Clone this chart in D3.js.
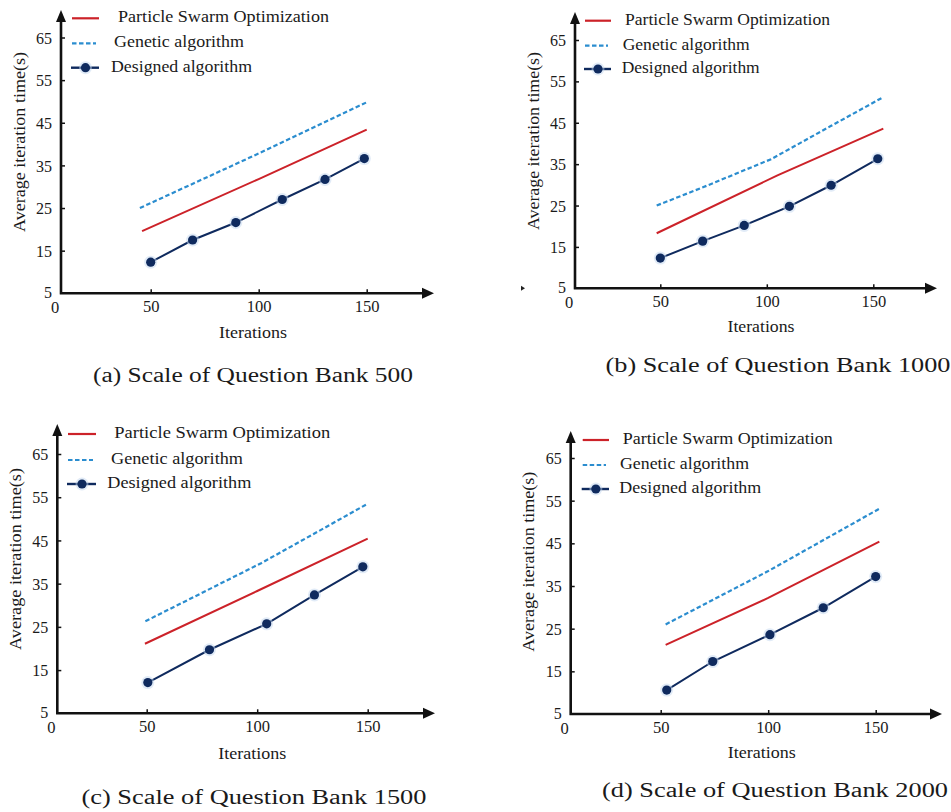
<!DOCTYPE html>
<html>
<head>
<meta charset="utf-8">
<script src="https://cdn.jsdelivr.net/npm/d3@7"></script>
<style>
  body { margin: 0; background: #fff; }
  svg { display: block; }
  text { font-family: "Liberation Serif", "Times New Roman", serif; fill: #1a1a1a; }
</style>
</head>
<body>
<div id="chart"></div>
<script>
// values: [iterations, average iteration time (s)]
let legendNames = ['Particle Swarm Optimization', 'Genetic algorithm', 'Designed algorithm'];
let yTicks = [5, 15, 25, 35, 45, 55, 65];
let xTicks = [50, 100, 150];
let captions = ['(a) Scale of Question Bank 500', '(b) Scale of Question Bank 1000',
                '(c) Scale of Question Bank 1500', '(d) Scale of Question Bank 2000'];

let psoA = [[46, 19.6], [100, 31.8], [150, 43.4]];
let gaA  = [[45, 25], [100, 37.8], [150, 49.8]];
let desA = [[50, 12.3], [69.4, 17.5], [89.4, 21.6], [110.9, 27.0], [130.7, 31.7], [148.9, 36.6]];

let psoB = [[48.3, 18.3], [105, 32.3], [154.7, 43.6]];
let gaB  = [[48.3, 25], [70, 29.4], [102, 36.2], [130, 44.2], [154.7, 51.2]];
let desB = [[50, 12.3], [69.9, 16.4], [89.4, 20.2], [110.6, 24.8], [130.2, 29.9], [152.1, 36.3]];

let psoC = [[49.2, 21.1], [100, 33.3], [150, 45.4]];
let gaC  = [[49.4, 26.3], [74, 32.6], [102, 39.8], [128, 47.2], [150, 53.5]];
let desC = [[50.5, 12.1], [78.4, 19.7], [104.3, 25.7], [125.9, 32.4], [147.8, 38.9]];

let psoD = [[52.3, 21.2], [100, 32.2], [151.7, 45.4]];
let gaD  = [[52.3, 26], [100, 38.5], [152, 53.2]];
let desD = [[52.8, 10.6], [74.2, 17.3], [100.8, 23.6], [125.6, 29.9], [150, 37.2]];

// layout of each small chart (pixel positions in the 951x812 picture)
let panels = [
  { pso: psoA, ga: gaA, des: desA, caption: captions[0],
    ax: 61, ay: 293.3, top: 10, right: 434, x50: 150.7, x150: 366.7, y65: 37.5,
    leg: { x1: 72, x2: 99, rows: [18.3, 43.3, 67.7], tx: [118, 114, 111], tl: [211, 130, 141] },
    ylab: [19, 142, 180], xlab: [253, 332, 68], cap: [253, 375, 320] },
  { pso: psoB, ga: gaB, des: desB, caption: captions[1],
    ax: 575, ay: 288.3, top: 12, right: 937, x50: 660.3, x150: 873.3, y65: 40,
    leg: { x1: 585, x2: 611, rows: [20.7, 45.7, 69], tx: [625, 622.7, 621.7], tl: [205, 127, 138] },
    ylab: [533.3, 141, 178], xlab: [761, 326, 67], cap: [778, 365, 345], stray: true },
  { pso: psoC, ga: gaC, des: desC, caption: captions[2],
    ax: 57.3, ay: 713.3, top: 424, right: 435, x50: 146.7, x150: 367.7, y65: 454,
    leg: { x1: 68, x2: 96, rows: [434, 460, 484], tx: [114.3, 111, 107.3], tl: [216, 132, 144] },
    ylab: [15, 559, 182], xlab: [252.3, 753.3, 68], cap: [254, 797, 345] },
  { pso: psoD, ga: gaD, des: desD, caption: captions[3],
    ax: 570.7, ay: 714, top: 431, right: 942, x50: 660.7, x150: 875.7, y65: 458,
    leg: { x1: 582.7, x2: 609, rows: [440, 465, 489], tx: [622.7, 620, 619.3], tl: [210, 129, 142] },
    ylab: [528.3, 561.7, 180], xlab: [761.7, 752.3, 68], cap: [775, 790, 346] }
];

let colors = { pso: '#cc2229', ga: '#2b8dcf', des: '#0f2a5e', axis: '#111' };
let serif = '"Liberation Serif", "Times New Roman", serif';

let svg = d3.select('#chart').append('svg')
  .attr('width', 951)
  .attr('height', 812);

function drawPanel(p) {
  let g = svg.append('g');

  let x = d3.scaleLinear().domain([50, 150]).range([p.x50, p.x150]);
  let y = d3.scaleLinear().domain([5, 65]).range([p.ay, p.y65]);

  // y axis ticks + labels (ticks point inward)
  let yAxis = g.append('g')
    .attr('transform', 'translate(' + p.ax + ',0)')
    .call(d3.axisLeft(y).tickValues(yTicks).tickSizeInner(-4).tickSizeOuter(0).tickPadding(9))
    .attr('font-family', null);
  yAxis.select('.domain').remove();
  yAxis.selectAll('.tick line').attr('stroke', colors.axis).attr('stroke-width', 1.5)
    .filter(d => d === 5).remove();
  yAxis.selectAll('.tick text').attr('font-size', 16)
    .style('font-family', serif)
    .attr('fill', '#1a1a1a').attr('dy', d => d === 5 ? '0.25em' : '0.35em');

  // x axis ticks + labels
  let xAxis = g.append('g')
    .attr('transform', 'translate(0,' + p.ay + ')')
    .call(d3.axisBottom(x).tickValues(xTicks).tickSizeInner(-4).tickSizeOuter(0).tickPadding(7))
    .attr('font-family', null);
  xAxis.select('.domain').remove();
  xAxis.selectAll('.tick line').attr('stroke', colors.axis).attr('stroke-width', 1.5);
  xAxis.selectAll('.tick text').attr('font-size', 16.5)
    .style('font-family', serif).attr('fill', '#1a1a1a');

  g.append('text')
    .attr('x', p.ax - 6).attr('y', p.ay + 14)
    .attr('text-anchor', 'middle').attr('dominant-baseline', 'central')
    .attr('font-size', 16.5).text('0');

  // axis lines with arrow heads
  g.append('path')
    .attr('d', 'M' + p.ax + ',' + (p.ay + 1) + 'V' + (p.top + 10) +
               'M' + (p.ax - 1.2) + ',' + p.ay + 'H' + (p.right - 10))
    .attr('stroke', colors.axis).attr('stroke-width', 2.6).attr('fill', 'none');
  g.append('path')
    .attr('d', 'M' + p.ax + ',' + p.top + 'l-5,12h10z')
    .attr('fill', colors.axis);
  g.append('path')
    .attr('d', 'M' + p.right + ',' + p.ay + 'l-12,-5.5v11z')
    .attr('fill', colors.axis);

  if (p.stray) {
    g.append('path')
      .attr('d', 'M' + (p.ax - 50) + ',' + p.ay + 'l-4,-2.5v5z')
      .attr('fill', '#222');
  }

  // series
  let line = d3.line().x(d => x(d[0])).y(d => y(d[1]));

  g.append('path').datum(p.ga)
    .attr('d', line).attr('fill', 'none')
    .attr('stroke', colors.ga).attr('stroke-width', 2.2)
    .attr('stroke-dasharray', '4.5,2.5');

  g.append('path').datum(p.pso)
    .attr('d', line).attr('fill', 'none')
    .attr('stroke', colors.pso).attr('stroke-width', 2);

  g.append('path').datum(p.des)
    .attr('d', line).attr('fill', 'none')
    .attr('stroke', colors.des).attr('stroke-width', 2);

  g.selectAll('.halo').data(p.des).enter().append('circle')
    .attr('cx', d => x(d[0])).attr('cy', d => y(d[1]))
    .attr('r', 6.5).attr('fill', '#c4d8f0').attr('opacity', 0.5);
  g.selectAll('.dot').data(p.des).enter().append('circle')
    .attr('cx', d => x(d[0])).attr('cy', d => y(d[1]))
    .attr('r', 4.6).attr('fill', colors.des);

  // legend
  let L = p.leg;
  g.append('line')
    .attr('x1', L.x1).attr('x2', L.x2).attr('y1', L.rows[0]).attr('y2', L.rows[0])
    .attr('stroke', colors.pso).attr('stroke-width', 2.2);
  g.append('line')
    .attr('x1', L.x1).attr('x2', L.x2 - 3).attr('y1', L.rows[1]).attr('y2', L.rows[1])
    .attr('stroke', colors.ga).attr('stroke-width', 2.2).attr('stroke-dasharray', '4.5,2.5');
  g.append('line')
    .attr('x1', L.x1 - 1).attr('x2', L.x2).attr('y1', L.rows[2]).attr('y2', L.rows[2])
    .attr('stroke', colors.des).attr('stroke-width', 2.4);
  g.append('circle')
    .attr('cx', (L.x1 + L.x2) / 2).attr('cy', L.rows[2]).attr('r', 6.5)
    .attr('fill', '#c4d8f0').attr('opacity', 0.5);
  g.append('circle')
    .attr('cx', (L.x1 + L.x2) / 2).attr('cy', L.rows[2]).attr('r', 4.6)
    .attr('fill', colors.des);

  legendNames.forEach(function(name, i) {
    g.append('text')
      .attr('x', L.tx[i]).attr('y', L.rows[i] - 1.5)
      .attr('dominant-baseline', 'central')
      .attr('font-size', 16.5)
      .attr('textLength', L.tl[i]).attr('lengthAdjust', 'spacingAndGlyphs')
      .text(name);
  });

  // axis titles
  g.append('text')
    .attr('transform', 'translate(' + p.ylab[0] + ',' + p.ylab[1] + ') rotate(-90)')
    .attr('text-anchor', 'middle').attr('dominant-baseline', 'central')
    .attr('font-size', 16)
    .attr('textLength', p.ylab[2]).attr('lengthAdjust', 'spacingAndGlyphs')
    .text('Average iteration time(s)');

  g.append('text')
    .attr('x', p.xlab[0]).attr('y', p.xlab[1])
    .attr('text-anchor', 'middle').attr('dominant-baseline', 'central')
    .attr('font-size', 16)
    .attr('textLength', p.xlab[2]).attr('lengthAdjust', 'spacingAndGlyphs')
    .text('Iterations');

  // caption
  g.append('text')
    .attr('x', p.cap[0]).attr('y', p.cap[1])
    .attr('text-anchor', 'middle').attr('dominant-baseline', 'central')
    .attr('font-size', 20.5)
    .attr('textLength', p.cap[2]).attr('lengthAdjust', 'spacingAndGlyphs')
    .attr('fill', '#111')
    .text(p.caption);
}

panels.forEach(drawPanel);
</script>
</body>
</html>
